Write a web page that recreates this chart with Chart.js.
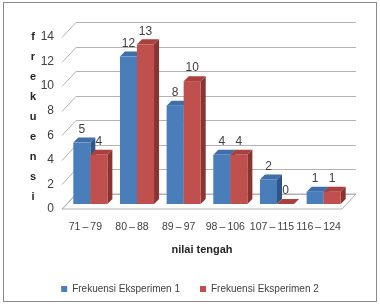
<!DOCTYPE html>
<html>
<head>
<meta charset="utf-8">
<script src="https://cdn.jsdelivr.net/npm/chart.js@4"></script>
<style>
  html, body { margin: 0; padding: 0; background: #fff; }
  #wrap { width: 380px; height: 304px; }
</style>
</head>
<body>
<div id="wrap"><canvas id="chart" width="380" height="304"></canvas></div>
<script>
var categories = ['71\u2009–\u200979', '80\u2009–\u200988', '89\u2009–\u200997', '98\u2009–\u2009106', '107\u2009–\u2009115', '116\u2009–\u2009124'];
var eksperimen1 = [5, 12, 8, 4, 2, 1];
var eksperimen2 = [4, 13, 10, 4, 0, 1];
var seriesNames = ['Frekuensi Eksperimen 1', 'Frekuensi Eksperimen 2'];
var yTicks = [0, 2, 4, 6, 8, 10, 12, 14];
var yTitle = 'frekuensi';
var xTitle = 'nilai tengah';

var FONT = "'Liberation Sans Narrow', 'Liberation Sans', sans-serif";
// face colours: front, top, side
var faces = [
  { front: '#4a7ebb', top: '#3f6ea8', side: '#2f5587' },
  { front: '#c0504d', top: '#a9413e', side: '#8a3330' }
];
var WALL = { dx: 14, dy: 15 };   // floor / back wall depth
var BAR = { dx: 5, dy: 5 };      // bar depth
var SHIFT = 5;                   // bars sit a little back from the floor front

var pseudo3d = {
  id: 'pseudo3d',
  beforeDraw: function(chart) {
    var ctx = chart.ctx;
    ctx.save();
    ctx.fillStyle = '#fff';
    ctx.fillRect(0, 0, chart.width, chart.height);
    ctx.strokeStyle = '#8c8c8c';
    ctx.lineWidth = 1;
    ctx.strokeRect(3.5, 2.5, 373, 299);
    ctx.restore();
  },
  beforeDatasetsDraw: function(chart) {
    var ctx = chart.ctx, area = chart.chartArea, y = chart.scales.y;
    ctx.save();
    // floor
    var y0 = y.getPixelForValue(0);
    ctx.fillStyle = '#ffffff';
    ctx.strokeStyle = '#b3b3b3';
    ctx.lineWidth = 1;
    ctx.beginPath();
    ctx.moveTo(area.left, y0);
    ctx.lineTo(area.right, y0);
    ctx.lineTo(area.right + WALL.dx, y0 - WALL.dy);
    ctx.lineTo(area.left + WALL.dx, y0 - WALL.dy);
    ctx.closePath();
    ctx.fill();
    ctx.stroke();
    // back wall grid and side diagonals
    yTicks.forEach(function(v) {
      var py = Math.round(y.getPixelForValue(v)) + 0.5;
      ctx.beginPath();
      ctx.moveTo(area.left, py);
      ctx.lineTo(area.left + WALL.dx, py - WALL.dy);
      ctx.lineTo(area.right + WALL.dx, py - WALL.dy);
      ctx.stroke();
    });
    // vertical axis title, one letter per line
    ctx.fillStyle = '#262626';
    ctx.font = 'bold 11px ' + FONT;
    ctx.textAlign = 'center';
    ctx.textBaseline = 'middle';
    for (var i = 0; i < yTitle.length; i++) {
      ctx.fillText(yTitle[i], 33, 37 + i * 20);
    }
    ctx.restore();
  },
  afterDatasetsDraw: function(chart) {
    var ctx = chart.ctx;
    var metas = [chart.getDatasetMeta(0), chart.getDatasetMeta(1)];
    ctx.save();
    for (var c = 0; c < categories.length; c++) {
      for (var d = 0; d < 2; d++) {
        var el = metas[d].data[c];
        var w = el.width;
        var x1 = el.x - w / 2 + SHIFT, x2 = el.x + w / 2 + SHIFT;
        var top = el.y - SHIFT, base = el.base - SHIFT;
        var f = faces[d];
        // side
        ctx.fillStyle = f.side;
        ctx.beginPath();
        ctx.moveTo(x2, top); ctx.lineTo(x2 + BAR.dx, top - BAR.dy);
        ctx.lineTo(x2 + BAR.dx, base - BAR.dy); ctx.lineTo(x2, base);
        ctx.closePath(); ctx.fill();
        // top
        ctx.fillStyle = f.top;
        ctx.beginPath();
        ctx.moveTo(x1, top); ctx.lineTo(x1 + BAR.dx, top - BAR.dy);
        ctx.lineTo(x2 + BAR.dx, top - BAR.dy); ctx.lineTo(x2, top);
        ctx.closePath(); ctx.fill();
        // front
        ctx.fillStyle = f.front;
        ctx.fillRect(x1, top, x2 - x1, base - top);
      }
    }
    // value labels
    ctx.fillStyle = '#404040';
    ctx.font = '12px ' + FONT;
    ctx.textAlign = 'center';
    ctx.textBaseline = 'middle';
    for (var d2 = 0; d2 < 2; d2++) {
      metas[d2].data.forEach(function(el, i) {
        var v = chart.data.datasets[d2].data[i];
        ctx.fillText(String(v), el.x + SHIFT, el.y - SHIFT - 13);
      });
    }
    ctx.restore();
  }
};

new Chart(document.getElementById('chart').getContext('2d'), {
  type: 'bar',
  plugins: [pseudo3d],
  data: {
    labels: categories,
    datasets: [
      { label: seriesNames[0], data: eksperimen1, backgroundColor: 'rgba(0,0,0,0)', borderWidth: 0,
        _legendColor: faces[0].front },
      { label: seriesNames[1], data: eksperimen2, backgroundColor: 'rgba(0,0,0,0)', borderWidth: 0,
        _legendColor: faces[1].front }
    ]
  },
  options: {
    responsive: false,
    animation: false,
    layout: { padding: { top: 37, right: 0, left: 0, bottom: 0 } },
    datasets: { bar: { categoryPercentage: 0.73, barPercentage: 1 } },
    scales: {
      x: {
        afterFit: function(scale) { scale.height = 55; },
        grid: { display: false, drawTicks: false },
        border: { display: false },
        ticks: { color: '#404040', font: { family: FONT, size: 10.5 }, padding: 12, maxRotation: 0, autoSkip: false },
        title: { display: true, text: xTitle, color: '#262626',
          font: { family: FONT, size: 11, weight: 'bold' }, padding: { top: 0, bottom: 7 } }
      },
      y: {
        min: 0, max: 14,
        afterFit: function(scale) { scale.width = 62; },
        afterBuildTicks: function(scale) { scale.ticks = yTicks.map(function(v) { return { value: v }; }); },
        grid: { display: false, drawTicks: false },
        border: { display: false },
        ticks: { color: '#404040', font: { family: FONT, size: 12 }, padding: 8 }
      },
      // empty right-hand strip that holds the back wall's depth
      yRight: {
        position: 'right',
        afterFit: function(scale) { scale.width = 38; },
        grid: { display: false, drawTicks: false },
        border: { display: false },
        ticks: { display: false }
      }
    },
    plugins: {
      legend: {
        position: 'bottom',
        labels: {
          color: '#404040',
          font: { family: FONT, size: 10 },
          boxWidth: 6, boxHeight: 6, padding: 20,
          generateLabels: function(chart) {
            return chart.data.datasets.map(function(ds, i) {
              return { text: ds.label, fillStyle: ds._legendColor, strokeStyle: ds._legendColor,
                lineWidth: 0, datasetIndex: i, fontColor: '#404040' };
            });
          }
        }
      },
      tooltip: { enabled: false }
    }
  }
});
</script>
</body>
</html>
